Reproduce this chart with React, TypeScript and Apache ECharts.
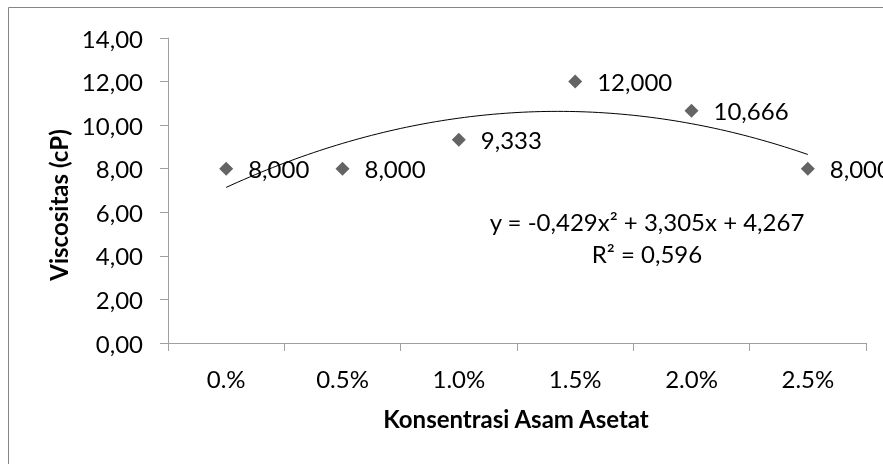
import React, { useEffect, useRef } from "react";
import * as echarts from "echarts";

const categories = ["0.%", "0.5%", "1.0%", "1.5%", "2.0%", "2.5%"];
const viscosity = [8.0, 8.0, 9.333, 12.0, 10.666, 8.0];
const trendCoefficients = [-0.429, 3.305, 4.267]; // a, b, c of y = a x^2 + b x + c (x = 1..6)
const equationText = "y = -0,429x\u00b2 + 3,305x + 4,267";
const r2Text = "R\u00b2 = 0,596";
const xTitle = "Konsentrasi Asam Asetat";
const yTitle = "Viscositas (cP)";
const yMin = 0;
const yMax = 14;
const yInterval = 2;

const FONT = "Lato";
const FS = 24;

export default function App() {
  const ref = useRef<HTMLDivElement>(null);
  useEffect(() => {
    if (!ref.current) return;
    const chart = echarts.init(ref.current, undefined, { renderer: "svg" });
    const [a, b, c] = trendCoefficients;
    const trend: number[][] = [];
    const n = 100;
    for (let i = 0; i <= n; i++) {
      const x = 1 + ((categories.length - 1) * i) / n;
      trend.push([x, a * x * x + b * x + c]);
    }
    chart.setOption({
      animation: false,
      textStyle: { fontFamily: FONT },
      grid: { left: 168, top: 38, width: 698, height: 305, containLabel: false },
      xAxis: [
        {
          type: "category",
          data: categories,
          boundaryGap: true,
          axisLine: { lineStyle: { color: "#a0a0a0", width: 1 } },
          axisTick: { show: true, length: 8, lineStyle: { color: "#a0a0a0" } },
          axisLabel: { color: "#000", fontSize: FS, margin: 23, fontFamily: FONT },
          splitLine: { show: false },
        },
        {
          type: "value",
          min: 0.5,
          max: 6.5,
          show: false,
          splitLine: { show: false },
        },
      ],
      yAxis: {
        type: "value",
        min: yMin,
        max: yMax,
        interval: yInterval,
        axisLine: { show: true, lineStyle: { color: "#a0a0a0", width: 1 } },
        axisTick: { show: true, length: 8, lineStyle: { color: "#a0a0a0" } },
        axisLabel: {
          color: "#000",
          fontSize: FS,
          margin: 25,
          fontFamily: FONT,
          formatter: (v: number) => v.toFixed(2).replace(".", ","),
        },
        splitLine: { show: false },
      },
      series: [
        {
          type: "line",
          xAxisIndex: 1,
          data: trend,
          showSymbol: false,
          symbol: "none",
          lineStyle: { color: "#000", width: 1 },
          silent: true,
          z: 1,
        },
        {
          type: "line",
          xAxisIndex: 0,
          data: viscosity,
          symbol: "diamond",
          symbolSize: 14,
          lineStyle: { width: 0, opacity: 0 },
          itemStyle: { color: "#646464" },
          label: {
            show: true,
            position: "right",
            distance: 15,
            color: "#000",
            fontSize: FS,
            fontFamily: FONT,
            formatter: (p: any) => Number(p.value).toFixed(3).replace(".", ","),
          },
          z: 2,
        },
      ],
      graphic: [
        {
          type: "rect",
          shape: { x: 8.5, y: 7.5, width: 1000, height: 1000 },
          style: { fill: "none", stroke: "#868686", lineWidth: 1 },
          silent: true,
          z: -1,
        },
        {
          type: "text",
          x: 647,
          y: 221,
          style: {
            text: equationText,
            font: `${FS}px ${FONT}`,
            fill: "#000",
            align: "center",
            verticalAlign: "middle",
          },
        },
        {
          type: "text",
          x: 647,
          y: 253,
          style: {
            text: r2Text,
            font: `${FS}px ${FONT}`,
            fill: "#000",
            align: "center",
            verticalAlign: "middle",
          },
        },
        {
          type: "text",
          x: 516,
          y: 418,
          style: {
            text: xTitle,
            font: `bold ${FS}px ${FONT}`,
            fill: "#000",
            align: "center",
            verticalAlign: "middle",
          },
        },
        {
          type: "text",
          x: 58,
          y: 205,
          rotation: Math.PI / 2,
          style: {
            text: yTitle,
            font: `bold ${FS}px ${FONT}`,
            fill: "#000",
            align: "center",
            verticalAlign: "middle",
          },
        },
      ],
    });
    return () => chart.dispose();
  }, []);
  return (
    <div
      ref={ref}
      style={{ position: "fixed", left: 0, top: 0, width: 883, height: 464 }}
    />
  );
}
